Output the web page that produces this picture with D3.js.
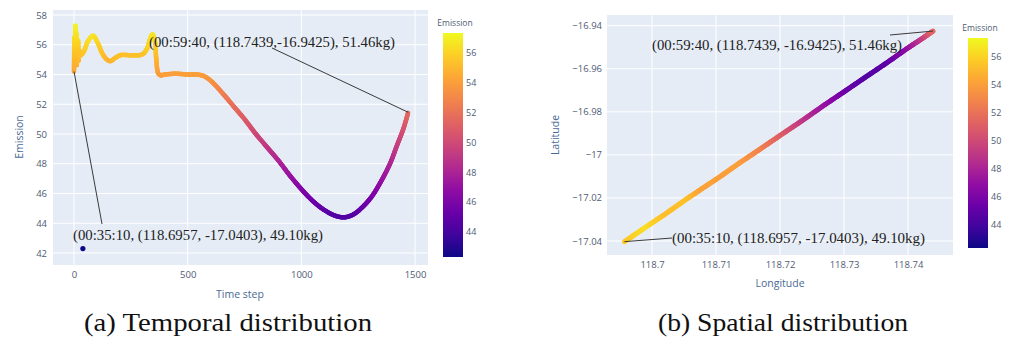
<!DOCTYPE html>
<html><head><meta charset="utf-8">
<script src="https://cdn.jsdelivr.net/npm/d3@7"></script>
<style>
html,body{margin:0;padding:0;background:#fff;}
svg{display:block;}
</style></head>
<body>
<svg id="chart" width="1014" height="338"></svg>
<script>
// ---------- data ----------
const timeSteps = [0,2,4,6,8,10,12,14,16,18,20,24,30,45,60,84,105,125,145,160,180,205,250,300,320,335,345,355,362,370,380,400,450,500,540,570,600,650,700,750,800,850,900,950,1000,1050,1100,1150,1190,1230,1270,1310,1350,1390,1420,1450,1470];
const emission  = [54.2,56.5,54.8,57.3,55.2,56.8,54.6,56.0,55.0,56.3,54.9,55.6,55.3,55.6,56.2,56.6,56.1,55.4,55.0,54.9,55.1,55.3,55.3,55.35,55.7,56.4,56.7,56.3,55.0,54.1,53.95,54.0,54.05,54.0,54.0,53.9,53.6,52.8,51.9,51.0,50.0,49.1,48.2,47.2,46.3,45.5,44.9,44.5,44.4,44.6,45.1,45.8,46.8,48.0,49.2,50.4,51.46];
const outlierStep = [39];
const outlierEmission = [42.3];

const trackLon = [118.6957,118.6990,118.7023,118.7055,118.7078,118.7105,118.7137,118.7170,118.7203,118.7236,118.7268,118.7301,118.7334,118.7367,118.7399,118.7423,118.7439];
const trackLat = [-17.0403,-17.0336,-17.0270,-17.0203,-17.0157,-17.0104,-17.0037,-16.9971,-16.9904,-16.9838,-16.9771,-16.9705,-16.9638,-16.9572,-16.9505,-16.9458,-16.9425];
const trackEmission = [55.5,56.4,55.2,55.35,54.1,54.05,54.0,52.8,51.0,49.1,47.2,45.5,44.5,44.8,46.8,49.2,51.46];

const timeTicks = [0,500,1000,1500];
const emissionTicks = [42,44,46,48,50,52,54,56,58];
const lonTicks = [118.70,118.71,118.72,118.73,118.74];
const latTicks = [-16.94,-16.96,-16.98,-17.00,-17.02,-17.04];
const colorTicks = [44,46,48,50,52,54,56];
const colorRange = [42.3,57.35];

const annoEnd = "(00:59:40, (118.7439,-16.9425), 51.46kg)";
const annoEndB = "(00:59:40, (118.7439, -16.9425), 51.46kg)";
const annoStart = "(00:35:10, (118.6957, -17.0403), 49.10kg)";
const captionA = "(a) Temporal distribution";
const captionB = "(b) Spatial distribution";

// ---------- drawing ----------
const svg = d3.select("#chart");
const tickColor = "#4f5b73";
const titleColor = "#4a6a96";
const sans = "'Open Sans', 'Noto Sans', sans-serif";
const serif = "'Liberation Serif', 'DejaVu Serif', serif";
const color = d3.scaleSequential(d3.interpolatePlasma).domain(colorRange);

function axisStyle(g){
  g.select(".domain").remove();
  g.selectAll(".tick line").remove();
  g.selectAll("text").attr("fill", tickColor).style("font-family", sans).style("font-size","9.5px");
}

function colorbar(x, y0, y1, w){
  const id = "cb"+x;
  const grad = svg.append("defs").append("linearGradient").attr("id",id)
    .attr("x1","0").attr("y1","1").attr("x2","0").attr("y2","0");
  d3.range(0,1.0001,0.1).forEach(t=>{
    grad.append("stop").attr("offset",t).attr("stop-color", d3.interpolatePlasma(t));
  });
  svg.append("rect").attr("x",x).attr("y",y0).attr("width",w).attr("height",y1-y0).attr("fill",`url(#${id})`);
  const s = d3.scaleLinear().domain(colorRange).range([y1,y0]);
  const g = svg.append("g").attr("transform",`translate(${x+w},0)`)
    .call(d3.axisRight(s).tickValues(colorTicks).tickFormat(d3.format("d")).tickSize(0).tickPadding(3));
  axisStyle(g);
  g.selectAll("text").style("font-size","9px");
  svg.append("text").attr("x",x+w/2+2).attr("y",y0-7).attr("text-anchor","middle")
    .attr("fill",tickColor).style("font-family",sans).style("font-size","8.5px").text("Emission");
}

// ===== Left: temporal =====
{
  const X0=53, X1=428, Y0=10, Y1=265;
  const x = d3.scaleLinear().domain([-92.4,1557.2]).range([X0,X1]);
  const y = d3.scaleLinear().domain([41.193,58.336]).range([Y1,Y0]);
  svg.append("rect").attr("x",X0).attr("y",Y0).attr("width",X1-X0).attr("height",Y1-Y0).attr("fill","#e5ecf6");
  const grid = svg.append("g");
  grid.selectAll("line.v").data(timeTicks).join("line").attr("x1",d=>x(d)).attr("x2",d=>x(d)).attr("y1",Y0).attr("y2",Y1).attr("stroke","#fff").attr("stroke-width",1);
  grid.selectAll("line.h").data(emissionTicks).join("line").attr("y1",d=>y(d)).attr("y2",d=>y(d)).attr("x1",X0).attr("x2",X1).attr("stroke","#fff").attr("stroke-width",1);

  const gx = svg.append("g").attr("transform",`translate(0,${Y1})`).call(d3.axisBottom(x).tickValues(timeTicks).tickFormat(d3.format("d")).tickSize(0).tickPadding(6));
  axisStyle(gx);
  const gy = svg.append("g").attr("transform",`translate(${X0},0)`).call(d3.axisLeft(y).tickValues(emissionTicks).tickFormat(d3.format("d")).tickSize(0).tickPadding(6));
  axisStyle(gy);

  svg.append("text").attr("x",240).attr("y",298).attr("text-anchor","middle").attr("fill",titleColor)
    .style("font-family",sans).style("font-size","10.5px").text("Time step");
  svg.append("text").attr("transform","translate(23,137) rotate(-90)").attr("text-anchor","middle").attr("fill",titleColor)
    .style("font-family",sans).style("font-size","10.5px").text("Emission");

  // line with colour along value
  const pts = timeSteps.map((s,i)=>[x(s), y(emission[i])]);
  const lineGen = d3.line().curve(d3.curveCatmullRom.alpha(0.5));
  const tmp = svg.append("path").attr("d", lineGen(pts)).attr("fill","none").attr("stroke","none");
  const node = tmp.node();
  const L = node.getTotalLength();
  const segs = [];
  let prev = node.getPointAtLength(0);
  for(let l=1; l<=L; l+=1){
    const p = node.getPointAtLength(Math.min(l,L));
    segs.push([prev,p]);
    prev = p;
  }
  tmp.remove();
  svg.append("g").selectAll("line").data(segs).join("line")
    .attr("x1",d=>d[0].x).attr("y1",d=>d[0].y).attr("x2",d=>d[1].x).attr("y2",d=>d[1].y)
    .attr("stroke",d=>color(y.invert((d[0].y+d[1].y)/2))).attr("stroke-width",4.5).attr("stroke-linecap","round");

  svg.append("g").selectAll("circle").data(outlierStep).join("circle")
    .attr("cx",(d)=>x(d)).attr("cy",(d,i)=>y(outlierEmission[i])).attr("r",2.6)
    .attr("fill",(d,i)=>color(outlierEmission[i]));

  // annotations
  const endX = x(timeSteps[timeSteps.length-1]), endY = y(emission[emission.length-1]);
  svg.append("line").attr("x1",272).attr("y1",48).attr("x2",endX).attr("y2",endY).attr("stroke","#3a3a3a").attr("stroke-width",1);
  svg.append("text").attr("x",149).attr("y",47).attr("fill","#222").style("font-family",serif).style("font-size","14.5px")
    .attr("textLength",246).attr("lengthAdjust","spacingAndGlyphs").text(annoEnd);
  const stX = x(timeSteps[0]), stY = y(emission[0]);
  svg.append("line").attr("x1",stX).attr("y1",stY).attr("x2",102).attr("y2",224).attr("stroke","#3a3a3a").attr("stroke-width",1);
  svg.append("text").attr("x",73).attr("y",240).attr("fill","#222").style("font-family",serif).style("font-size","14.5px")
    .attr("textLength",250).attr("lengthAdjust","spacingAndGlyphs").text(annoStart);

  colorbar(443,33,257,20);

  svg.append("text").attr("x",228).attr("y",331).attr("text-anchor","middle").attr("fill","#111")
    .style("font-family",serif).style("font-size","25px").attr("textLength",288).attr("lengthAdjust","spacingAndGlyphs").text(captionA);
}

// ===== Right: spatial =====
{
  const X0=607, X1=953, Y0=15, Y1=255;
  const x = d3.scaleLinear().domain([118.69297,118.74703]).range([X0,X1]);
  const y = d3.scaleLinear().domain([-17.0465,-16.93503]).range([Y1,Y0]);
  svg.append("rect").attr("x",X0).attr("y",Y0).attr("width",X1-X0).attr("height",Y1-Y0).attr("fill","#e5ecf6");
  const grid = svg.append("g");
  grid.selectAll("line.v").data(lonTicks).join("line").attr("x1",d=>x(d)).attr("x2",d=>x(d)).attr("y1",Y0).attr("y2",Y1).attr("stroke","#fff").attr("stroke-width",1);
  grid.selectAll("line.h").data(latTicks).join("line").attr("y1",d=>y(d)).attr("y2",d=>y(d)).attr("x1",X0).attr("x2",X1).attr("stroke","#fff").attr("stroke-width",1);

  const gx = svg.append("g").attr("transform",`translate(0,${Y1})`).call(d3.axisBottom(x).tickValues(lonTicks).tickFormat(d=>d3.format("")(+d.toFixed(2))).tickSize(0).tickPadding(6));
  axisStyle(gx);
  const gy = svg.append("g").attr("transform",`translate(${X0},0)`).call(d3.axisLeft(y).tickValues(latTicks).tickFormat(d=>String(+d.toFixed(2)).replace("-","\u2212")).tickSize(0).tickPadding(5));
  axisStyle(gy);

  svg.append("text").attr("x",780).attr("y",287).attr("text-anchor","middle").attr("fill",titleColor)
    .style("font-family",sans).style("font-size","10.5px").text("Longitude");
  svg.append("text").attr("transform","translate(559,135) rotate(-90)").attr("text-anchor","middle").attr("fill",titleColor)
    .style("font-family",sans).style("font-size","10.5px").text("Latitude");

  const segs = [];
  for(let i=0;i<trackLon.length-1;i++){
    const n = 12;
    for(let k=0;k<n;k++){
      const t0=k/n, t1=(k+1)/n;
      segs.push({
        x1: x(trackLon[i]+(trackLon[i+1]-trackLon[i])*t0), y1: y(trackLat[i]+(trackLat[i+1]-trackLat[i])*t0),
        x2: x(trackLon[i]+(trackLon[i+1]-trackLon[i])*t1), y2: y(trackLat[i]+(trackLat[i+1]-trackLat[i])*t1),
        v: trackEmission[i]+(trackEmission[i+1]-trackEmission[i])*(t0+t1)/2
      });
    }
  }
  svg.append("g").selectAll("line").data(segs).join("line")
    .attr("x1",d=>d.x1).attr("y1",d=>d.y1).attr("x2",d=>d.x2).attr("y2",d=>d.y2)
    .attr("stroke",d=>color(d.v)).attr("stroke-width",5).attr("stroke-linecap","round");

  const eX = x(trackLon[trackLon.length-1]), eY = y(trackLat[trackLat.length-1]);
  svg.append("line").attr("x1",890).attr("y1",35).attr("x2",eX).attr("y2",eY).attr("stroke","#3a3a3a").attr("stroke-width",1);
  svg.append("text").attr("x",652).attr("y",50).attr("fill","#222").style("font-family",serif).style("font-size","14.5px")
    .attr("textLength",250).attr("lengthAdjust","spacingAndGlyphs").text(annoEndB);
  const sX = x(trackLon[0]), sY = y(trackLat[0]);
  svg.append("line").attr("x1",sX).attr("y1",sY).attr("x2",672).attr("y2",238).attr("stroke","#3a3a3a").attr("stroke-width",1);
  svg.append("text").attr("x",672).attr("y",243).attr("fill","#222").style("font-family",serif).style("font-size","14.5px")
    .attr("textLength",253).attr("lengthAdjust","spacingAndGlyphs").text(annoStart);

  colorbar(968,38,248,20);

  svg.append("text").attr("x",783).attr("y",331).attr("text-anchor","middle").attr("fill","#111")
    .style("font-family",serif).style("font-size","25px").attr("textLength",250).attr("lengthAdjust","spacingAndGlyphs").text(captionB);
}
</script>
</body></html>
